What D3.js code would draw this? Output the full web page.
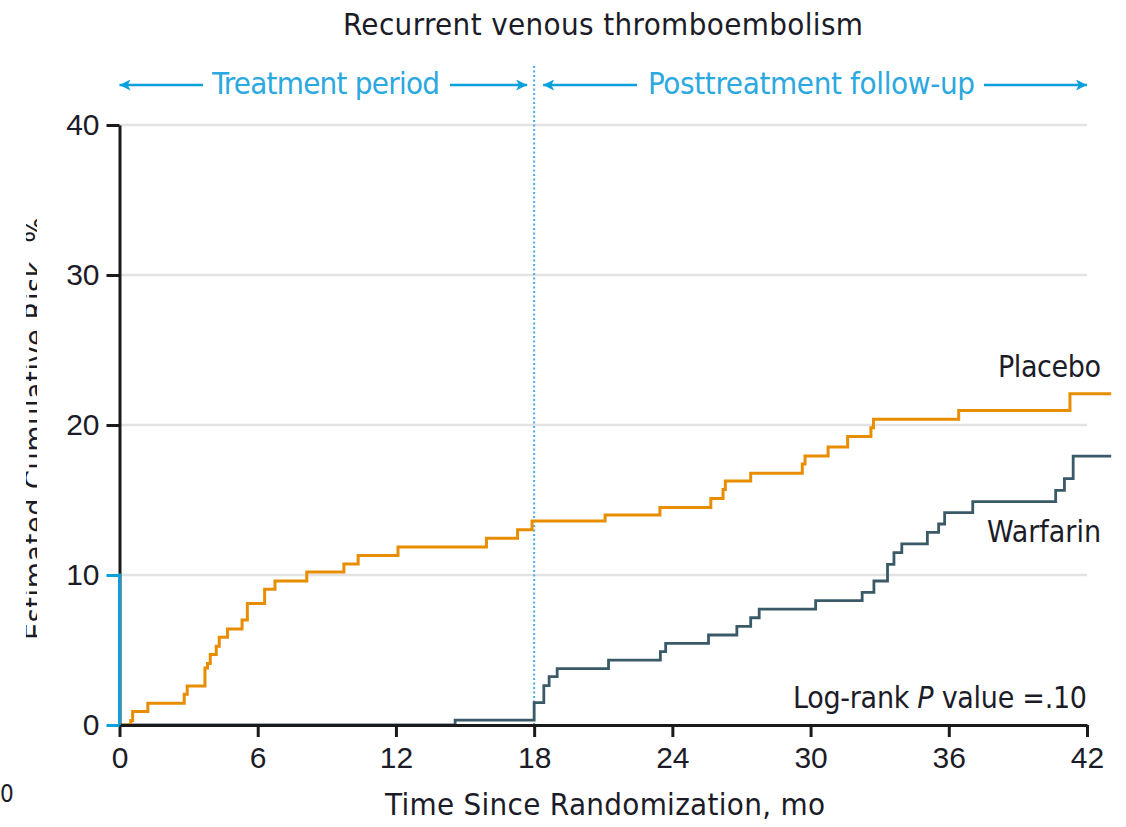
<!DOCTYPE html>
<html>
<head>
<meta charset="utf-8">
<script src="https://cdn.jsdelivr.net/npm/d3@7"></script>
<style>
  body { margin: 0; background: #fff; }
  svg { display: block; font-family: "Liberation Sans Narrow", "DejaVu Sans Condensed", sans-serif; }
</style>
</head>
<body>
<div id="chart"></div>
<script>
const width = 1126;
const height = 827;

// Kaplan-Meier style cumulative risk, step-after
const placeboTime = [0, 0.49, 0.57, 1.23, 2.81, 2.94, 3.71, 3.82, 3.94, 4.2, 4.33, 4.69, 5.32, 5.55, 6.3, 6.75, 8.13, 9.74, 10.36, 12.09, 15.93, 17.28, 17.91, 21.08, 23.46, 25.67, 26.2, 26.3, 27.4, 29.64, 29.76, 30.76, 31.61, 32.62, 32.73, 36.43, 41.26, 43.05];
const placeboRisk = [0, 0.3, 0.9, 1.45, 2.05, 2.6, 3.8, 4.1, 4.7, 5.25, 5.85, 6.4, 7.0, 8.1, 9.05, 9.6, 10.2, 10.73, 11.3, 11.87, 12.45, 13.02, 13.6, 14.0, 14.5, 15.1, 15.7, 16.27, 16.78, 17.4, 17.93, 18.53, 19.24, 19.82, 20.38, 20.96, 22.09, 22.09];

const warfarinTime = [0, 14.57, 18.0, 18.42, 18.65, 19.0, 21.23, 23.48, 23.71, 25.57, 26.8, 27.4, 27.77, 30.22, 32.24, 32.75, 33.34, 33.62, 33.96, 35.07, 35.56, 35.82, 37.04, 40.64, 41.02, 41.4, 43.05];
const warfarinRisk = [0, 0.33, 1.49, 2.62, 3.22, 3.76, 4.33, 4.89, 5.44, 6.0, 6.58, 7.15, 7.73, 8.29, 8.84, 9.6, 10.71, 11.49, 12.07, 12.84, 13.4, 14.16, 14.89, 15.64, 16.42, 17.93, 17.93];

const xTicks = [0, 6, 12, 18, 24, 30, 36, 42];
const yTicks = [0, 10, 20, 30, 40];
const treatmentEnd = 18;

const orange = "#e88d00";
const slate = "#395a66";
const blue = "#0aa0dc";
const ink = "#1a1a1a";

const xScale = d3.scaleLinear().domain([0, 42]).range([119.5, 1087]);
const yScale = d3.scaleLinear().domain([0, 40]).range([725, 125]);

const svg = d3.select("#chart")
  .append("svg")
  .attr("width", width)
  .attr("height", height);

const defs = svg.append("defs");
defs.append("marker")
  .attr("id", "arrow")
  .attr("viewBox", "0 0 10 10")
  .attr("refX", 10)
  .attr("refY", 5)
  .attr("markerWidth", 6)
  .attr("markerHeight", 4.4)
  .attr("markerUnits", "strokeWidth")
  .attr("orient", "auto")
  .append("path")
  .attr("d", "M0,0 L10,5 L0,10 L2.5,5 Z")
  .attr("fill", blue);

defs.append("clipPath")
  .attr("id", "ylabel-clip")
  .append("rect")
  .attr("x", 26)
  .attr("y", 200)
  .attr("width", 11)
  .attr("height", 460);

// gridlines
svg.append("g")
  .selectAll("line")
  .data(yTicks.filter((d) => d > 0))
  .enter()
  .append("line")
  .attr("x1", xScale(0))
  .attr("x2", xScale(42))
  .attr("y1", (d) => yScale(d))
  .attr("y2", (d) => yScale(d))
  .attr("stroke", "#e3e3e3")
  .attr("stroke-width", 2.5);

// title
svg.append("text")
  .attr("x", 343)
  .attr("y", 35)
  .attr("textLength", 520)
  .attr("fill", "#1c1c28")
  .style("font-size", "31px")
  .text("Recurrent venous thromboembolism");

// period annotations
const arrowY = 85;
const periods = [
  { label: "Treatment period", x0: xScale(0), x1: xScale(treatmentEnd) - 7, tx: 212, tw: 228, gapL: 203, gapR: 450 },
  { label: "Posttreatment follow-up", x0: xScale(treatmentEnd) + 9, x1: xScale(42), tx: 648, tw: 327, gapL: 637, gapR: 984 },
];

periods.forEach((p) => {
  svg.append("line")
    .attr("x1", p.gapL).attr("x2", p.x0)
    .attr("y1", arrowY).attr("y2", arrowY)
    .attr("stroke", blue).attr("stroke-width", 2.5)
    .attr("marker-end", "url(#arrow)");
  svg.append("line")
    .attr("x1", p.gapR).attr("x2", p.x1)
    .attr("y1", arrowY).attr("y2", arrowY)
    .attr("stroke", blue).attr("stroke-width", 2.5)
    .attr("marker-end", "url(#arrow)");
  svg.append("text")
    .attr("x", p.tx)
    .attr("y", 94)
    .attr("textLength", p.tw)
    .attr("fill", "#2aa8e0")
    .style("font-size", "31px")
    .text(p.label);
});

// dotted divider at end of treatment
svg.append("line")
  .attr("x1", xScale(treatmentEnd))
  .attr("x2", xScale(treatmentEnd))
  .attr("y1", 66)
  .attr("y2", yScale(0))
  .attr("stroke", "#4aaae6")
  .attr("stroke-width", 2)
  .attr("stroke-dasharray", "2,2.5");

// step curves
const stepLine = d3.line()
  .x((d) => xScale(d[0]))
  .y((d) => yScale(d[1]))
  .curve(d3.curveStepAfter);

svg.append("path")
  .datum(warfarinTime.map((t, i) => [t, warfarinRisk[i]]))
  .attr("d", stepLine)
  .attr("fill", "none")
  .attr("stroke", slate)
  .attr("stroke-width", 2.8);

svg.append("path")
  .datum(placeboTime.map((t, i) => [t, placeboRisk[i]]))
  .attr("d", stepLine)
  .attr("fill", "none")
  .attr("stroke", orange)
  .attr("stroke-width", 3);

// x axis
const xAxis = d3.axisBottom(xScale)
  .tickValues(xTicks)
  .tickSize(12)
  .tickPadding(10)
  .tickSizeOuter(0);

const gx = svg.append("g")
  .attr("transform", `translate(0, ${yScale(0)})`)
  .call(xAxis);
gx.select(".domain").attr("stroke", ink).attr("stroke-width", 3);
gx.selectAll(".tick line").attr("stroke", ink).attr("stroke-width", 3);
gx.selectAll(".tick text")
  .attr("fill", "#1c1c28")
  .attr("dy", "0.71em")
  .style("font-size", "30px")
  .style("font-family", "inherit");

// y axis: lower part (0-10) drawn in blue
const yAxis = d3.axisLeft(yScale)
  .tickValues(yTicks)
  .tickSize(13)
  .tickPadding(7)
  .tickSizeOuter(0);

const gy = svg.append("g")
  .attr("transform", `translate(${xScale(0)}, 0)`)
  .call(yAxis);
gy.select(".domain").attr("stroke", ink).attr("stroke-width", 3);
gy.selectAll(".tick line")
  .attr("stroke", (d) => (d <= 10 ? blue : ink))
  .attr("stroke-width", 3);
gy.selectAll(".tick text")
  .attr("fill", "#1c1c28")
  .style("font-size", "30px")
  .style("font-family", "inherit");
gy.append("line")
  .attr("x1", 0).attr("x2", 0)
  .attr("y1", yScale(10) - 1.5)
  .attr("y2", yScale(0))
  .attr("stroke", blue)
  .attr("stroke-width", 3);

// axis titles
svg.append("text")
  .attr("x", 385)
  .attr("y", 815)
  .attr("textLength", 440)
  .attr("fill", "#1c1c28")
  .style("font-size", "31px")
  .text("Time Since Randomization, mo");

svg.append("g")
  .attr("clip-path", "url(#ylabel-clip)")
  .append("text")
  .attr("transform", "translate(46, 640) rotate(-90)")
  .attr("textLength", 423)
  .attr("fill", "#1c1c28")
  .style("font-size", "30px")
  .text("Estimated Cumulative Risk, %");

// small label fragment at bottom left
svg.append("text")
  .attr("x", 0)
  .attr("y", 802)
  .attr("fill", "#1c1c28")
  .style("font-size", "24px")
  .text("0");

// series labels
svg.append("text")
  .attr("x", 998)
  .attr("y", 377)
  .attr("textLength", 103)
  .attr("fill", "#1c1c28")
  .style("font-size", "30px")
  .text("Placebo");

svg.append("text")
  .attr("x", 987)
  .attr("y", 542)
  .attr("textLength", 114)
  .attr("fill", "#1c1c28")
  .style("font-size", "30px")
  .text("Warfarin");

const pText = svg.append("text")
  .attr("x", 793)
  .attr("y", 708)
  .attr("textLength", 294)
  .attr("fill", "#1c1c28")
  .style("font-size", "30px");
pText.append("tspan").text("Log-rank ");
pText.append("tspan").style("font-style", "italic").text("P");
pText.append("tspan").text(" value =.10");
</script>
</body>
</html>
